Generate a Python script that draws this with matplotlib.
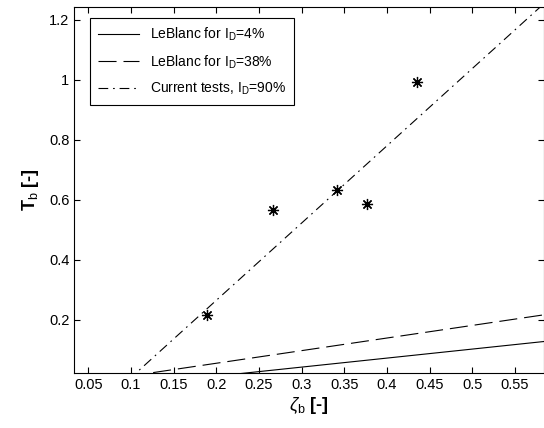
import matplotlib
matplotlib.use("Agg")
import matplotlib.pyplot as plt

plt.rcParams['font.family'] = ['Liberation Sans', 'DejaVu Sans']
plt.rcParams['mathtext.fontset'] = 'custom'
plt.rcParams['mathtext.rm'] = 'Liberation Sans'
plt.rcParams['mathtext.it'] = 'Liberation Sans:italic'
plt.rcParams['mathtext.bf'] = 'Liberation Sans:bold'
plt.rcParams['lines.scale_dashes'] = False

# LeBlanc curves, end points
leblanc4_x = [0.158, 0.584]
leblanc4_y = [0.0, 0.128]
leblanc38_x = [0.068, 0.584]
leblanc38_y = [0.0, 0.217]
# fit through current tests
fit_x = [0.097, 0.585]
fit_y = [0.0, 1.257]
# measured points
test_x = [0.189, 0.266, 0.342, 0.376, 0.435]
test_y = [0.217, 0.567, 0.633, 0.586, 0.993]

xticks = [0.05, 0.1, 0.15, 0.2, 0.25, 0.3, 0.35, 0.4, 0.45, 0.5, 0.55]
yticks = [0.2, 0.4, 0.6, 0.8, 1.0, 1.2]
ytick_labels = ["0.2", "0.4", "0.6", "0.8", "1", "1.2"]

fig = plt.figure(figsize=(5.44, 4.28), dpi=100)
ax = fig.add_axes([0.1366, 0.1278, 0.8634, 0.8565])

ax.plot(leblanc4_x, leblanc4_y, color='black', lw=0.8, label=r'LeBlanc for I$_\mathrm{D}$=4%')
ax.plot(leblanc38_x, leblanc38_y, color='black', lw=0.8, dashes=(13, 5),
        label=r'LeBlanc for I$_\mathrm{D}$=38%')
ax.plot(fit_x, fit_y, color='black', lw=0.8, dashes=(7, 3.5, 1.2, 3.5),
        label=r'Current tests, I$_\mathrm{D}$=90%')
ax.plot(test_x, test_y, linestyle='none', marker=(8, 2, 0), markersize=8,
        markeredgewidth=0.9, color='black')

ax.set_xlim(0.0336, 0.584)
ax.set_ylim(0.022, 1.244)
ax.set_xticks(xticks)
ax.set_xticklabels([f"{t:g}" for t in xticks])
ax.set_yticks(yticks)
ax.set_yticklabels(ytick_labels)
ax.tick_params(direction='in', top=True, right=True, length=4, width=0.8, labelsize=10.5)
for s in ax.spines.values():
    s.set_linewidth(0.8)

ax.set_xlabel(r'$\zeta_\mathrm{b}$ [-]', fontsize=13, fontweight='bold', labelpad=2)
ax.set_ylabel(r'T$_\mathrm{b}$ [-]', fontsize=13, fontweight='bold', labelpad=6)

leg = ax.legend(loc='upper left', bbox_to_anchor=(0.0334, 0.969), borderaxespad=0,
                fontsize=10, handlelength=3.0, handletextpad=0.8, labelspacing=0.72,
                fancybox=False, framealpha=1, edgecolor='black', borderpad=0.55)
leg.get_frame().set_linewidth(0.8)

plt.savefig("out.png", dpi=100)
plt.close()
